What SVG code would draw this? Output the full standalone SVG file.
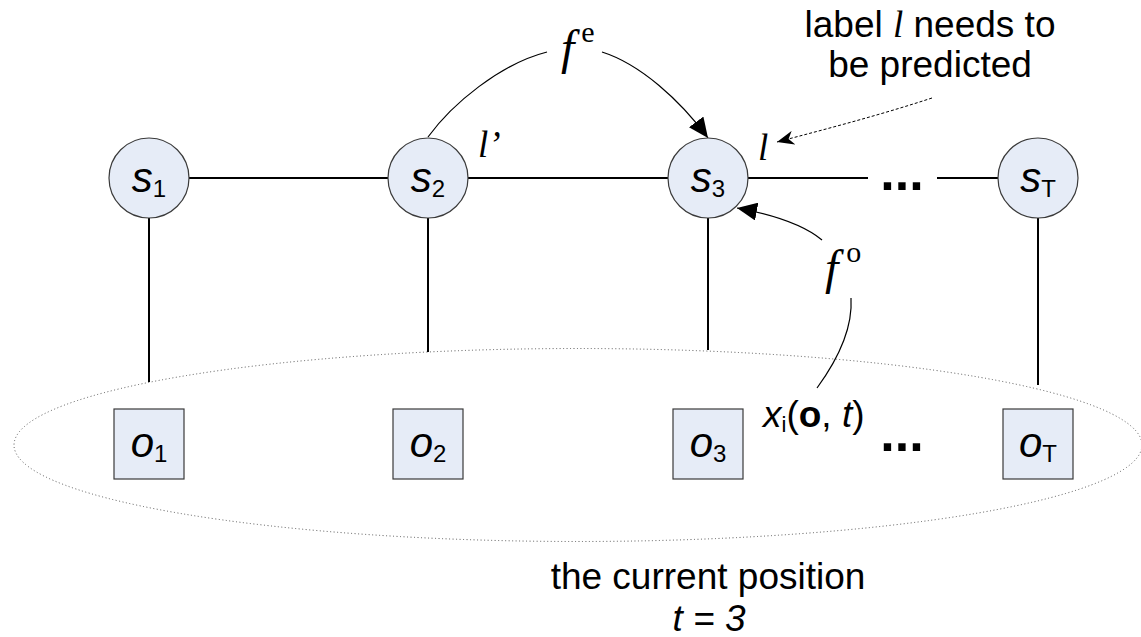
<svg xmlns="http://www.w3.org/2000/svg" width="1141" height="637" viewBox="0 0 1141 637">
<defs>
<style>
.node{fill:#e6ecf7;stroke:#3a3a3a;stroke-width:1.2}
.edge{stroke:#000;stroke-width:2;fill:none}
.thin{stroke:#000;stroke-width:1.2;fill:none}
.lbl{font-family:"Liberation Sans",Arial,sans-serif;font-size:42px;font-style:italic;fill:#000}
.sub{font-size:24px;font-style:normal}
.txt{font-family:"Liberation Sans",Arial,sans-serif;font-size:37px;fill:#000}
.ser{font-family:"Liberation Serif","Times New Roman",serif;font-style:italic;fill:#000}
.dots{font-family:"Liberation Sans",Arial,sans-serif;font-size:52px;font-weight:bold;fill:#000}
</style>
<marker id="tri" viewBox="0 0 20 18" refX="20" refY="9" markerWidth="20" markerHeight="18" markerUnits="userSpaceOnUse" orient="auto">
<path d="M0,0 L20,9 L0,18 z" fill="#000"/>
</marker>
<marker id="stealth" viewBox="0 0 17 14" refX="17" refY="7" markerWidth="17" markerHeight="14" markerUnits="userSpaceOnUse" orient="auto">
<path d="M0,0 L17,7 L0,14 L5,7 z" fill="#000"/>
</marker>
</defs>
<rect width="1141" height="637" fill="#fff"/>

<g id="connectors">
<ellipse cx="578" cy="445" rx="564" ry="96.5" fill="none" stroke="#555" stroke-width="1" stroke-dasharray="1 2.5"/>
<line class="edge" x1="189" y1="178" x2="388" y2="178"/>
<line class="edge" x1="468" y1="178" x2="668" y2="178"/>
<line class="edge" x1="748" y1="178" x2="868" y2="178"/>
<line class="edge" x1="937" y1="178" x2="998" y2="178"/>
<line class="edge" x1="149" y1="218" x2="149" y2="382"/>
<line class="edge" x1="428" y1="218" x2="428" y2="352"/>
<line class="edge" x1="708" y1="218" x2="708" y2="350"/>
<line class="edge" x1="1038" y1="218" x2="1038" y2="385"/>
<path class="thin" d="M428,137 C452,104 500,64 547,52"/>
<path class="thin" d="M602,52 C640,64 680,100 708,138" marker-end="url(#tri)"/>
<path class="thin" d="M822,240 C805,226 775,215 737,208" marker-end="url(#tri)"/>
<path class="thin" d="M851,298 C853,330 836,362 817,388"/>
<path d="M932,98 C880,115 830,128 777,142" fill="none" stroke="#000" stroke-width="1" stroke-dasharray="3 2" marker-end="url(#stealth)"/>
</g>

<g id="s1"><circle class="node" cx="149" cy="178" r="40"/><text class="lbl" x="149" y="192" text-anchor="middle">s<tspan class="sub" dy="5">1</tspan></text></g>
<g id="s2"><circle class="node" cx="428" cy="178" r="40"/><text class="lbl" x="428" y="192" text-anchor="middle">s<tspan class="sub" dy="5">2</tspan></text></g>
<g id="s3"><circle class="node" cx="708" cy="178" r="40"/><text class="lbl" x="708" y="192" text-anchor="middle">s<tspan class="sub" dy="5">3</tspan></text></g>
<g id="sT"><circle class="node" cx="1038" cy="178" r="40"/><text class="lbl" x="1038" y="192" text-anchor="middle">s<tspan class="sub" dy="5">T</tspan></text></g>

<g id="o1"><rect class="node" x="114" y="409" width="70" height="70"/><text class="lbl" x="149" y="457" text-anchor="middle">o<tspan class="sub" dy="5">1</tspan></text></g>
<g id="o2"><rect class="node" x="393" y="409" width="70" height="70"/><text class="lbl" x="428" y="457" text-anchor="middle">o<tspan class="sub" dy="5">2</tspan></text></g>
<g id="o3"><rect class="node" x="673" y="409" width="70" height="70"/><text class="lbl" x="708" y="457" text-anchor="middle">o<tspan class="sub" dy="5">3</tspan></text></g>
<g id="oT"><rect class="node" x="1003" y="409" width="70" height="70"/><text class="lbl" x="1038" y="457" text-anchor="middle">o<tspan class="sub" dy="5">T</tspan></text></g>

<g id="labels">
<text class="ser" x="561" y="64" font-size="48">f<tspan font-style="normal" font-size="30" dx="7" dy="-22">e</tspan></text>
<text class="ser" x="825" y="284" font-size="48">f<tspan font-style="normal" font-size="30" dx="8" dy="-22">o</tspan></text>
<text class="ser" x="478" y="157" font-size="37">l’</text>
<text class="ser" x="758" y="160" font-size="37">l</text>
<text class="txt" x="930" y="37" text-anchor="middle">label <tspan class="ser">l</tspan> needs to</text>
<text class="txt" x="930" y="77" text-anchor="middle">be predicted</text>
<text class="txt" x="763" y="427"><tspan font-style="italic">x</tspan><tspan font-size="22" dy="5">i</tspan><tspan dy="-5">(</tspan><tspan font-weight="bold">o</tspan>, <tspan font-style="italic">t</tspan>)</text>
<text class="dots" x="902" y="190" text-anchor="middle">...</text>
<text class="dots" x="902" y="451" text-anchor="middle">...</text>
<text class="txt" x="708" y="589" text-anchor="middle">the current position</text>
<text class="txt" x="709" y="631" text-anchor="middle" font-style="italic">t = 3</text>
</g>
</svg>
